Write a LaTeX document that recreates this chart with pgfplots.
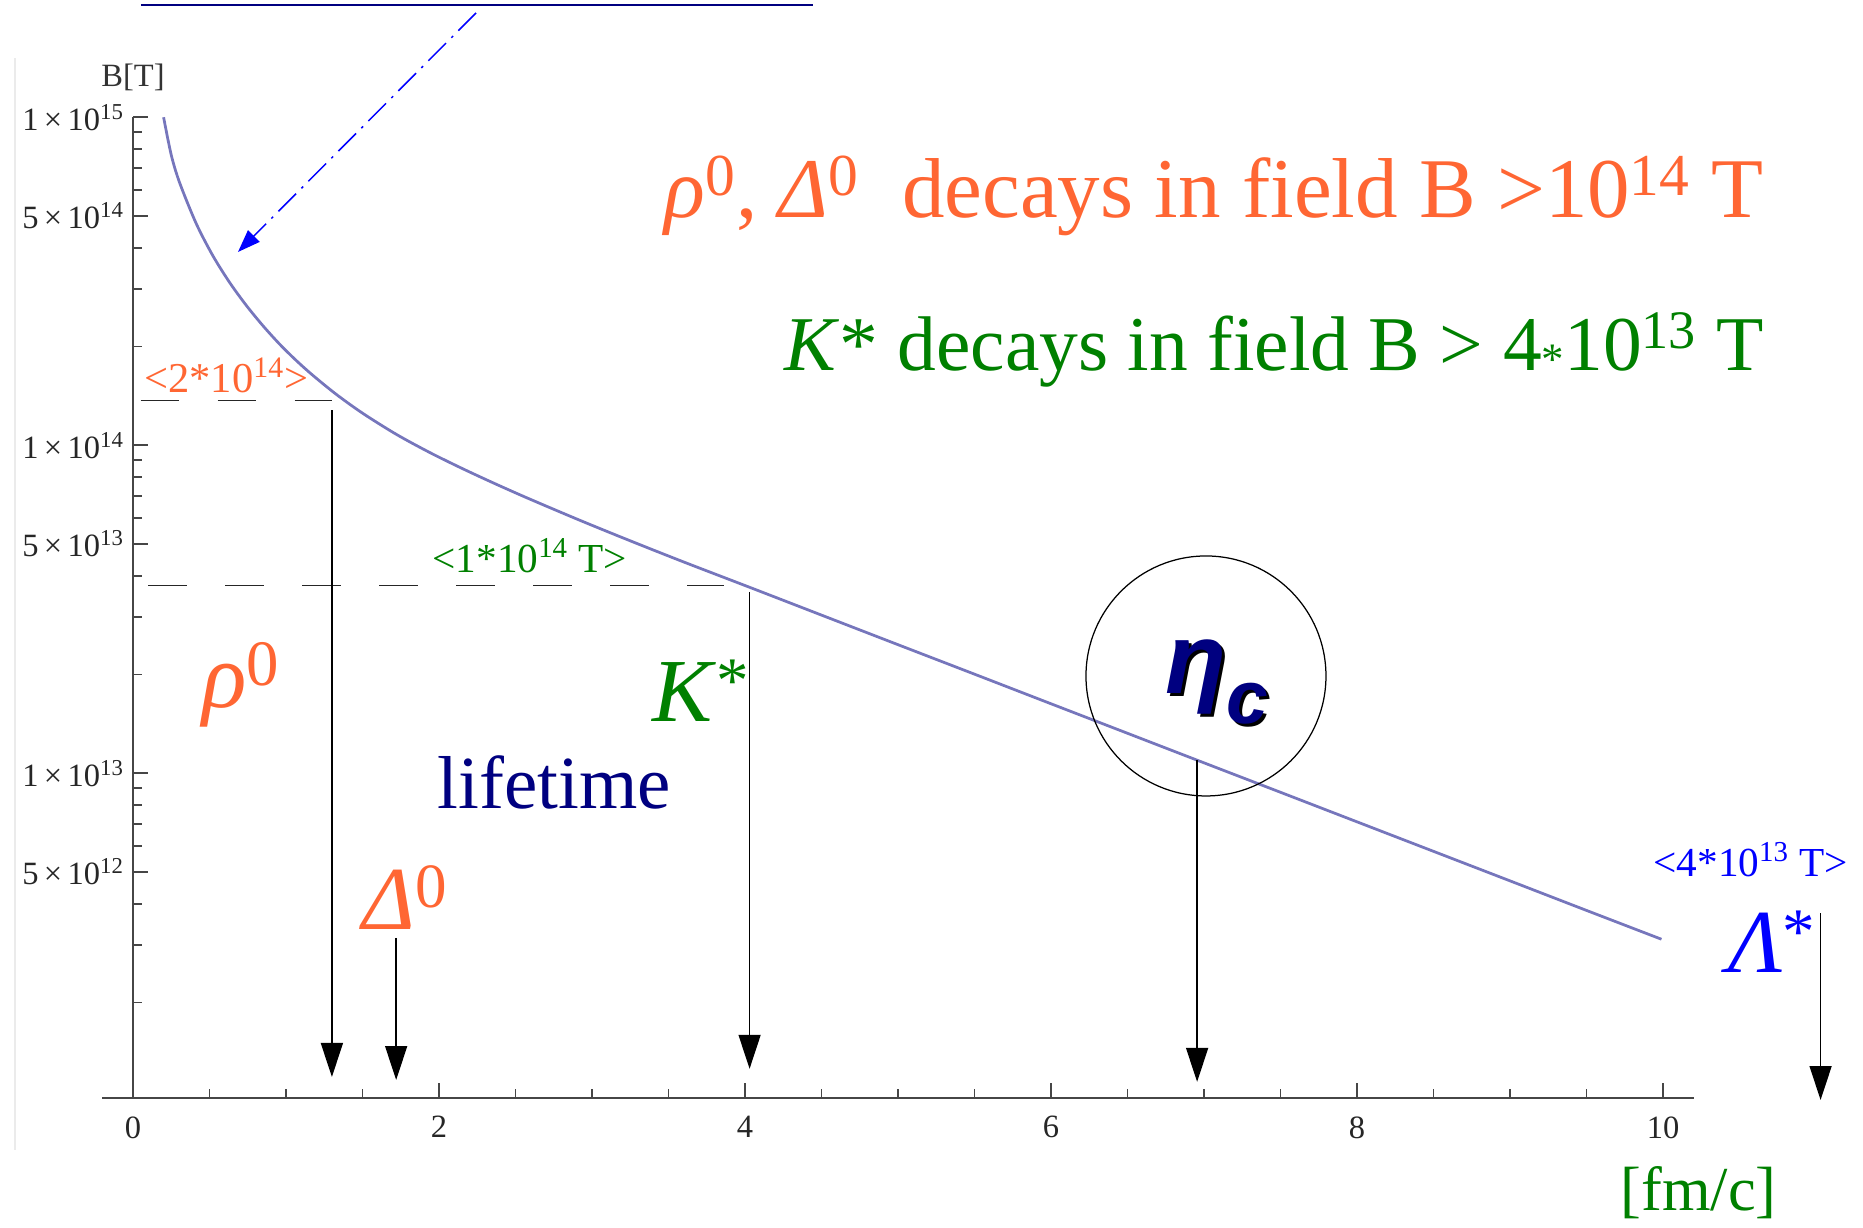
\documentclass[border=0pt]{standalone}
\usepackage{fontspec}
\setmainfont{Liberation Serif}
\newfontfamily\etafont{Liberation Sans}
\usepackage{pgfplots}
\pgfplotsset{compat=1.18}
\usetikzlibrary{arrows.meta}

\definecolor{orng}{RGB}{255,102,51}
\definecolor{grn}{RGB}{0,128,0}
\definecolor{navyb}{RGB}{0,0,128}
\definecolor{blu}{RGB}{0,0,255}
\definecolor{curvecol}{RGB}{118,118,188}
\definecolor{axisgray}{RGB}{70,70,70}

\newcommand\fs[1]{\fontsize{#1}{#1}\selectfont}
\newcommand\upstar[1]{\raisebox{0.22em}{\fs{#1}*}}

\begin{document}
\begin{tikzpicture}
\useasboundingbox (0,0) rectangle (745.2pt,491.2pt);

% pointer from the top rule down to the curve
\begin{scope}[shift={(0,491.2pt)},x=0.4pt,y=-0.4pt]
  \draw[black!8, line width=0.5pt] (15,58) -- (15,1150);
  \draw[navyb, line width=0.8pt] (141,5) -- (813,5);
  \draw[blu, line width=0.6pt, dash pattern=on 10pt off 3pt on 1pt off 3pt,
        -{Triangle[length=9pt,width=6.5pt]}] (476,13) -- (238,252);
\end{scope}

\begin{axis}[
  at={(40.96pt,52.12pt)}, anchor=south west,
  scale only axis, width=636.48pt, height=392.16pt,
  xmin=-0.2, xmax=10.2,
  ymode=log, ymin=1.026e12, ymax=1e15,
  axis x line=bottom, axis y line=middle,
  axis line style={-, axisgray, line width=0.8pt},
  hide obscured x ticks=false,
  tick align=inside,
  tick style={axisgray, line width=0.7pt},
  major tick length=6pt, minor tick length=3.5pt,
  xtick={0,2,4,6,8,10}, xticklabels={0,2,4,6,8,10},
  minor x tick num=3,
  ytick={5e12,1e13,5e13,1e14,5e14,1e15},
  yticklabels={5\,×\,10\textsuperscript{12},1\,×\,10\textsuperscript{13},5\,×\,10\textsuperscript{13},1\,×\,10\textsuperscript{14},5\,×\,10\textsuperscript{14},1\,×\,10\textsuperscript{15}},
  minor ytick={2e12,3e12,4e12,6e12,7e12,8e12,9e12,2e13,3e13,4e13,6e13,7e13,8e13,9e13,2e14,3e14,4e14,6e14,7e14,8e14,9e14},
  ticklabel style={font=\fs{13}, text=black!85},
  xticklabel style={yshift=-4pt},
  clip=false,
]
% field strength versus time
\addplot[curvecol, line width=1.1pt, smooth, tension=0.5] coordinates {
  (0.2,1.000e15) (0.25,7.674e14) (0.305,6.310e14) (0.414,4.732e14)
  (0.523,3.776e14) (0.632,3.133e14) (0.741,2.667e14) (0.850,2.312e14)
  (0.959,2.032e14) (1.068,1.811e14) (1.176,1.633e14) (1.329,1.429e14)
  (1.503,1.250e14) (1.722,1.079e14) (1.939,9.506e13) (2.157,8.472e13)
  (2.375,7.603e13) (2.593,6.855e13) (2.922,5.902e13) (3.248,5.117e13)
  (3.6,4.406e13) (4.03,3.690e13) (4.49,3.048e13) (5.0,2.466e13)
  (5.5,2.005e13) (6.0,1.629e13) (6.5,1.324e13) (7.0,1.076e13)
  (7.5,8.750e12) (8.0,7.112e12) (8.5,5.781e12) (9.0,4.699e12)
  (9.5,3.819e12) (9.99,3.119e12)
};
% threshold levels
\draw[black!85, line width=0.5pt, dash pattern=on 15.4pt off 15.4pt]
  (0.05,1.368e14) -- (1.30,1.368e14);
\draw[black!85, line width=0.5pt, dash pattern=on 15.4pt off 15.4pt]
  (0.1,3.73e13) -- (3.86,3.73e13);
% lifetimes
\begin{scope}[black, line width=0.6pt, -{Triangle[length=13.6pt,width=8.8pt]}]
  \draw (1.30,1.28e14) -- (1.30,1.186e12);
  \draw (1.72,3.15e12) -- (1.72,1.161e12);
  \draw (4.03,3.57e13) -- (4.03,1.256e12);
  \draw (6.955,1.096e13) -- (6.955,1.146e12);
  \draw (11.03,3.75e12) -- (11.03,1.009e12);
\end{scope}
\end{axis}

\begin{scope}[shift={(0,491.2pt)},x=0.4pt,y=-0.4pt,every node/.style={inner sep=0pt}]
  \node[anchor=base, text=black!80, font=\fs{13}] at (133,87) {B[T]};

  \node[anchor=base west, text=orng, font=\fs{34}] at (664,218)
    {\textit{ρ}\textsuperscript{0}, \textit{Δ}\textsuperscript{0}\ \ decays in field B >10\textsuperscript{14} T};
  \node[anchor=base west, text=grn, font=\fs{31}] at (784,371)
    {\textit{K}* decays in field B > 4\raisebox{-0.05em}{\fs{18}*}10\textsuperscript{13} T};

  \node[anchor=base west, text=orng, font=\fs{17}] at (144,393) {<2*10\textsuperscript{14}>};
  \node[anchor=base west, text=grn, font=\fs{16.5}] at (432,573) {<1*10\textsuperscript{14} T>};
  \node[anchor=base west, text=blu, font=\fs{16.5}] at (1653,877) {<4*10\textsuperscript{13} T>};

  \node[anchor=base west, text=orng, font=\fs{37}] at (202,708) {\textit{ρ}\textsuperscript{0}};
  \node[anchor=base west, text=orng, font=\fs{36}] at (362,930) {\textit{Δ}\textsuperscript{0}};
  \node[anchor=base west, text=grn, font=\fs{36}] at (652,722) {\textit{K}\upstar{26}};
  \node[anchor=base west, text=navyb, font=\fs{30}] at (437,809) {lifetime};
  \node[anchor=base west, text=blu, font=\fs{36}] at (1728,973) {\textit{Λ}\upstar{26}};
  \node[anchor=base west, text=grn, font=\fs{25}] at (1620,1211) {[fm/c]};

  % eta_c with its shadow, in a circle
  \draw[black, line width=0.5pt] (1206,676) circle[radius=120];
  \node[anchor=base west, text=black] at (1168,697)
    {\etafont\bfseries\itshape\fs{40}η\raisebox{-0.3em}{\fs{30}c}};
  \node[anchor=base west, text=navyb] at (1165,694)
    {\etafont\bfseries\itshape\fs{40}η\raisebox{-0.3em}{\fs{30}c}};
\end{scope}
\end{tikzpicture}
\end{document}
